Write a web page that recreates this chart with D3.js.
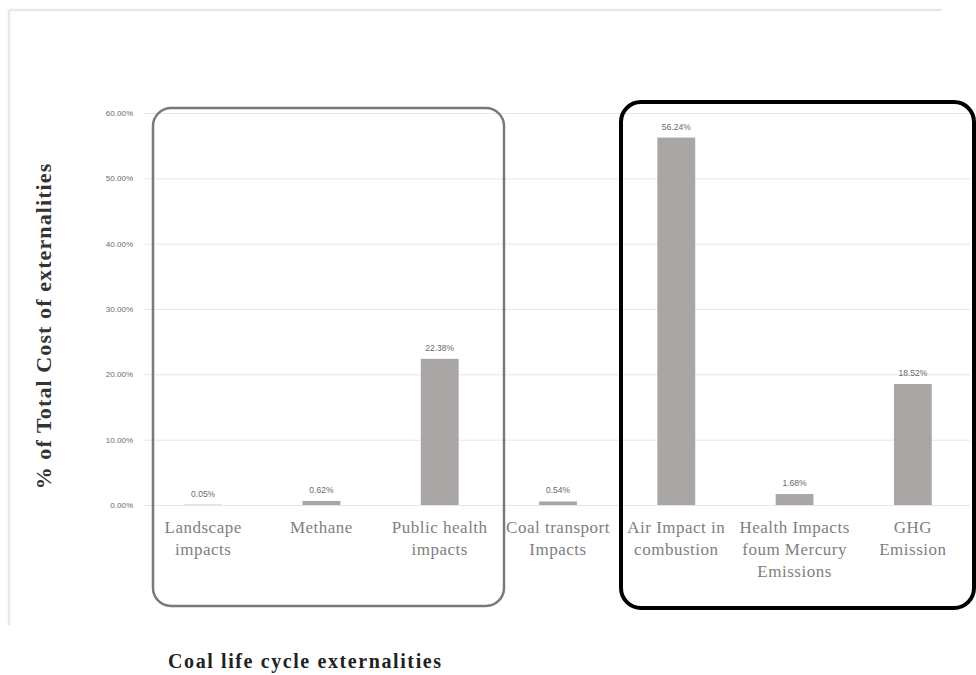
<!DOCTYPE html>
<html>
<head>
<meta charset="utf-8">
<script src="https://cdn.jsdelivr.net/npm/d3@7"></script>
<style>
  html, body { margin: 0; padding: 0; background: #fff; }
  svg { display: block; }
</style>
</head>
<body>
<svg id="chart" width="976" height="675"></svg>
<script>
// Share of total external cost across the coal life cycle
const categories = [
  "Landscape\nimpacts",
  "Methane",
  "Public health\nimpacts",
  "Coal transport\nImpacts",
  "Air Impact in\ncombustion",
  "Health Impacts\nfoum Mercury\nEmissions",
  "GHG\nEmission"
];
const shares = [0.05, 0.62, 22.38, 0.54, 56.24, 1.68, 18.52];
const yTicks = [0, 10, 20, 30, 40, 50, 60];
// Groups of categories that are outlined together
const groups = [
  { from: 0, to: 2, stroke: "#7a7a7a", width: 2.5, radius: 18 },
  { from: 4, to: 6, stroke: "#000000", width: 4, radius: 20 }
];

const svg = d3.select("#chart");

const x = d3.scaleBand()
  .domain(categories)
  .range([144, 972])
  .paddingInner(0.68)
  .paddingOuter(0.34);

const y = d3.scaleLinear()
  .domain([0, 60])
  .range([505, 113]);

// Faint outer frame
const frame = svg.append("g").attr("stroke", "#e9e9e9").attr("stroke-width", 2.5).attr("fill", "none");
frame.append("line").attr("x1", 9).attr("x2", 942).attr("y1", 10).attr("y2", 10);
frame.append("line").attr("x1", 9).attr("x2", 9).attr("y1", 10).attr("y2", 625);

// Gridlines and y tick labels
const yAxis = d3.axisLeft(y)
  .tickValues(yTicks)
  .tickSize(-(970 - 143))
  .tickFormat(d => d.toFixed(2) + "%");

const gy = svg.append("g")
  .attr("transform", "translate(143,0)")
  .call(yAxis);
gy.select(".domain").remove();
gy.selectAll(".tick line").attr("stroke", "#e6e6e6").attr("stroke-width", 1);
gy.selectAll(".tick text")
  .attr("x", -10)
  .attr("fill", "#6a6a6a")
  .style("font-family", "'Liberation Sans', Arial, sans-serif")
  .style("font-size", "8px");

// Bars
svg.append("g").selectAll("rect")
  .data(shares)
  .join("rect")
  .attr("x", (d, i) => x(categories[i]))
  .attr("width", x.bandwidth())
  .attr("y", d => y(d))
  .attr("height", d => y(0) - y(d))
  .attr("fill", "#aaa6a6");

// Value labels above bars
svg.append("g").selectAll("text")
  .data(shares)
  .join("text")
  .attr("x", (d, i) => x(categories[i]) + x.bandwidth() / 2)
  .attr("y", d => y(d) - 8)
  .attr("text-anchor", "middle")
  .attr("fill", "#6a6a6a")
  .style("font-family", "'Liberation Sans', Arial, sans-serif")
  .style("font-size", "8.5px")
  .text(d => d.toFixed(2) + "%");

// Category labels (multi-line)
const catG = svg.append("g")
  .style("font-family", "'Liberation Serif', 'DejaVu Serif', serif")
  .style("font-size", "17px")
  .style("letter-spacing", "0.5px")
  .attr("fill", "#808080");
categories.forEach(c => {
  const cx = x(c) + x.bandwidth() / 2;
  const t = catG.append("text")
    .attr("x", cx)
    .attr("y", 533)
    .attr("text-anchor", "middle");
  c.split("\n").forEach((line, k) => {
    t.append("tspan")
      .attr("x", cx)
      .attr("dy", k === 0 ? 0 : 22)
      .text(line);
  });
});

// Rounded outlines around grouped categories
const boxes = [
  { x0: 153, x1: 504, y0: 108, y1: 606 },
  { x0: 621, x1: 974, y0: 102, y1: 608 }
];
groups.forEach((g, i) => {
  const b = boxes[i];
  svg.append("rect")
    .attr("x", b.x0).attr("y", b.y0)
    .attr("width", b.x1 - b.x0).attr("height", b.y1 - b.y0)
    .attr("rx", g.radius).attr("ry", g.radius)
    .attr("fill", "none")
    .attr("stroke", g.stroke)
    .attr("stroke-width", g.width);
});

// Axis titles
svg.append("text")
  .attr("transform", "translate(51,326) rotate(-90)")
  .attr("text-anchor", "middle")
  .attr("fill", "#333")
  .style("font-family", "'Liberation Serif', serif")
  .style("font-weight", "bold")
  .style("font-size", "22px")
  .style("letter-spacing", "1.1px")
  .text("% of Total Cost of externalities");

svg.append("text")
  .attr("x", 168)
  .attr("y", 668)
  .attr("fill", "#222")
  .style("font-family", "'Liberation Serif', serif")
  .style("font-weight", "bold")
  .style("font-size", "20px")
  .style("letter-spacing", "1.6px")
  .text("Coal life cycle externalities");
</script>
</body>
</html>
